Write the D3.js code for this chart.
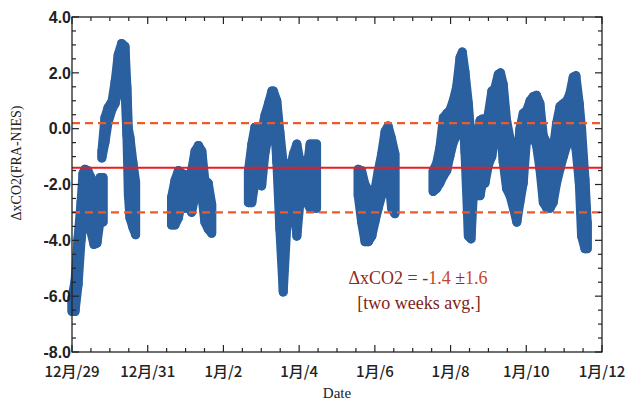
<!DOCTYPE html>
<html>
<head>
<meta charset="utf-8">
<script src="https://cdn.jsdelivr.net/npm/d3@7"></script>
<style>
  html, body { margin: 0; padding: 0; background: #fff; }
  svg { display: block; }
</style>
</head>
<body>
<svg id="chart" width="631" height="405"></svg>
<script>
// Hourly xCO2 difference (FRA minus NIES), summarised as the spread of the
// hourly points: day = days since 12/29 00:00, low/high = envelope of values.
// null entries separate the observing periods.
const day = [
  0.00, 0.08, 0.16, 0.24, 0.29, 0.34, 0.42, 0.50, 0.58, 0.66, 0.74, 0.82, null,
  0.79, 0.87, 0.95, 1.06, 1.14, 1.22, 1.31, 1.40, 1.45, 1.49, 1.53, 1.61, 1.68, null,
  2.63, 2.72, 2.81, 2.90, 2.99, 3.07, 3.16, 3.25, 3.34, 3.43, 3.51, 3.60, 3.69, null,
  4.66, 4.75, 4.83, 4.92, 5.01, 5.10, 5.19, 5.28, 5.32, 5.41, 5.49, 5.58, 5.67, 5.76, 5.85, 5.94, 6.02, 6.11, 6.20, 6.29, 6.37, 6.46, null,
  7.56, 7.65, 7.74, 7.83, 7.92, 8.00, 8.09, 8.18, 8.27, 8.35, 8.44, 8.53, null,
  9.54, 9.63, 9.72, 9.81, 9.90, 9.98, 10.07, 10.16, 10.25, 10.31, 10.38, 10.47, 10.54, 10.60, 10.69, 10.78, 10.84, 10.91,
  11.00, 11.09, 11.17, 11.26, 11.32, 11.39, 11.48, 11.57, 11.66, 11.75, 11.83, 11.92, 12.01, 12.10, 12.18, 12.27, 12.36,
  12.45, 12.54, 12.63, 12.71, 12.80, 12.89, 12.98, 13.07, 13.15, 13.24, 13.31, 13.40, 13.46, 13.55, 13.61
];
const low = [
  -6.55, -6.55, -5.6, -4.0, -3.3, -3.2, -3.3, -3.7, -4.15, -4.1, -3.3, -3.35, null,
  -1.05, -0.5, 0.2, 0.7, 0.9, 1.4, 1.5, 1.4, -0.25, -2.4, -3.2, -3.55, -3.8, null,
  -3.45, -3.45, -3.2, -2.65, -2.85, -2.75, -3.0, -2.4, -1.9, -2.4, -3.35, -3.6, -3.75, null,
  -2.65, -2.65, -1.95, -1.7, -2.05, -0.85, -0.25, 0.2, 0.8, -1.2, -3.6, -5.85, -3.6, -2.45, -2.4, -3.85, -2.65, -2.5, -2.65, -2.85, -2.85, -2.85, null,
  -2.4, -3.35, -4.05, -4.05, -3.85, -3.35, -2.85, -2.4, -1.95, -1.45, -2.85, -3.05, null,
  -2.25, -2.15, -1.95, -1.7, -1.5, -1.0, -0.5, -0.25, 0.2, 1.15, -0.85, -3.85, -3.95, -2.4, -2.4, -2.4, -1.95, -1.95,
  -1.3, -1.0, -0.25, 0.2, 0.0, -1.2, -2.15, -2.4, -2.85, -3.35, -2.65, -1.95, -0.35, -0.4, -0.25, -0.6, -1.45,
  -2.65, -2.85, -2.85, -2.65, -1.95, -1.45, -1.0, -0.6, -0.35, -0.25, -0.7, -1.95, -3.85, -4.3, -4.3
];
const high = [
  -6.05, -5.45, -3.9, -2.6, -1.6, -1.45, -1.5, -1.75, -2.3, -2.0, -1.75, -1.75, null,
  -0.8, 0.4, 0.75, 1.0, 1.7, 2.65, 3.05, 2.95, 1.5, 0.0, -0.3, -1.2, -1.9, null,
  -2.45, -1.85, -1.5, -1.6, -1.65, -1.95, -1.5, -0.8, -0.6, -0.8, -1.85, -1.95, -2.7, null,
  -1.5, -0.55, 0.05, -0.2, -0.1, 0.5, 0.9, 1.35, 1.35, 1.0, -0.1, -1.25, -1.25, -1.45, -0.9, -0.55, -1.15, -1.15, -1.5, -0.55, -0.55, -0.55, null,
  -1.45, -1.5, -2.0, -2.2, -2.45, -2.2, -1.5, -0.9, -0.1, 0.1, -0.35, -0.9, null,
  -1.5, -1.25, -0.65, 0.4, 0.55, 0.65, 1.0, 1.5, 2.55, 2.75, 2.05, 0.9, -0.3, -0.65, -0.4, 0.3, 0.35, -0.1,
  0.55, 1.35, 1.45, 1.95, 2.0, 1.6, 0.3, -0.35, -0.85, -1.45, 0.0, 0.55, 0.65, 1.0, 1.15, 1.2, 0.9,
  -0.25, -0.5, -0.95, -0.75, 0.2, 0.8, 0.9, 1.0, 1.25, 1.85, 1.9, 0.9, 0.0, -1.8, -3.35
];

// Two-week statistics
const meanDiff = -1.4;
const sdDiff = 1.6;

// Axes
const dayTicks = [0, 2, 4, 6, 8, 10, 12, 14];
const dayLabels = ["12月/29", "12月/31", "1月/2", "1月/4", "1月/6", "1月/8", "1月/10", "1月/12"];
const valueTicks = [4, 2, 0, -2, -4, -6, -8];
const valueLabels = ["4.0", "2.0", "0.0", "-2.0", "-4.0", "-6.0", "-8.0"];

const svg = d3.select("#chart");
const L = 72, R = 602, T = 17, B = 352;
const blue = "#2a609f";

const x = d3.scaleLinear().domain([0, 14]).range([L, R]);
const y = d3.scaleLinear().domain([-8, 4]).range([B, T]);

const rows = day.map((d, i) => ({ d, lo: low[i], hi: high[i] }));
const samples = rows.filter(r => r.d !== null);

// data band: envelope area plus a rounded stroke for each sample's spread
const area = d3.area()
  .defined(r => r.d !== null)
  .x(r => x(r.d))
  .y0(r => y(r.lo))
  .y1(r => y(r.hi))
  .curve(d3.curveLinear);

const band = svg.append("g");
band.append("path")
  .datum(rows)
  .attr("d", area)
  .attr("fill", blue)
  .attr("fill-rule", "nonzero")
  .attr("stroke", blue)
  .attr("stroke-width", 9)
  .attr("stroke-linejoin", "round");

band.selectAll("line")
  .data(samples)
  .join("line")
  .attr("x1", r => x(r.d)).attr("x2", r => x(r.d))
  .attr("y1", r => y(r.lo)).attr("y2", r => y(r.hi))
  .attr("stroke", blue)
  .attr("stroke-width", 9)
  .attr("stroke-linecap", "round");

// mean and ±1σ lines
svg.append("line")
  .attr("x1", L).attr("x2", R)
  .attr("y1", y(meanDiff)).attr("y2", y(meanDiff))
  .attr("stroke", "#ea1c22").attr("stroke-width", 2);

[meanDiff + sdDiff, meanDiff - sdDiff].forEach(v => {
  svg.append("line")
    .attr("x1", L).attr("x2", R)
    .attr("y1", y(v)).attr("y2", y(v))
    .attr("stroke", "#ec5a2e").attr("stroke-width", 2.4)
    .attr("stroke-dasharray", "8,5");
});

// frame with inward ticks on all four sides
const frame = svg.append("g").attr("stroke", "#222").attr("fill", "none");
frame.append("rect")
  .attr("x", L).attr("y", T).attr("width", R - L).attr("height", B - T)
  .attr("stroke-width", 1.3);

const xMinor = d3.range(0, 14.01, 0.5);
xMinor.forEach(t => {
  const major = dayTicks.includes(t);
  const len = major ? 7 : 4;
  frame.append("line").attr("x1", x(t)).attr("x2", x(t))
    .attr("y1", B).attr("y2", B - len).attr("stroke-width", 1.2);
  frame.append("line").attr("x1", x(t)).attr("x2", x(t))
    .attr("y1", T).attr("y2", T + len).attr("stroke-width", 1.2);
});

const yMinor = d3.range(-8, 4.01, 0.5);
yMinor.forEach(v => {
  const major = valueTicks.includes(v);
  const len = major ? 7 : 4;
  frame.append("line").attr("x1", L).attr("x2", L + len)
    .attr("y1", y(v)).attr("y2", y(v)).attr("stroke-width", 1.2);
  frame.append("line").attr("x1", R).attr("x2", R - len)
    .attr("y1", y(v)).attr("y2", y(v)).attr("stroke-width", 1.2);
});

// tick labels
svg.append("g").selectAll("text")
  .data(valueTicks)
  .join("text")
  .attr("x", L - 1)
  .attr("y", v => y(v))
  .attr("dy", "0.36em")
  .attr("text-anchor", "end")
  .attr("font-family", "'Liberation Sans', Arial, sans-serif")
  .attr("font-weight", "bold")
  .attr("font-size", 16)
  .attr("fill", "#222")
  .text((v, i) => valueLabels[i]);

svg.append("g").selectAll("text")
  .data(dayTicks)
  .join("text")
  .attr("x", t => x(t))
  .attr("y", 377)
  .attr("text-anchor", "middle")
  .attr("font-family", "'Noto Sans CJK JP', sans-serif")
  .attr("font-size", 15)
  .attr("font-weight", 500)
  .attr("fill", "#222")
  .text((t, i) => dayLabels[i]);

// axis titles
svg.append("text")
  .attr("x", (L + R) / 2)
  .attr("y", 398)
  .attr("text-anchor", "middle")
  .attr("font-family", "'Liberation Serif', 'Times New Roman', serif")
  .attr("font-size", 15)
  .attr("fill", "#222")
  .text("Date");

svg.append("text")
  .attr("transform", "translate(21,163) rotate(-90)")
  .attr("text-anchor", "middle")
  .attr("font-family", "'Liberation Serif', 'Times New Roman', serif")
  .attr("font-size", 14)
  .attr("fill", "#222")
  .text("ΔxCO2(FRA-NIES)");

// annotation
const note = svg.append("g")
  .attr("font-family", "'Liberation Serif', 'Times New Roman', serif")
  .attr("font-size", 18)
  .attr("text-anchor", "middle");
const line1 = note.append("text").attr("x", 418).attr("y", 284);
line1.append("tspan").attr("fill", "#8e2a1e").text("ΔxCO2 = -");
line1.append("tspan").attr("fill", "#c9442a").text(Math.abs(meanDiff).toFixed(1));
line1.append("tspan").attr("fill", "#8e2a1e").text(" ±");
line1.append("tspan").attr("fill", "#c9442a").text(sdDiff.toFixed(1));
note.append("text").attr("x", 419).attr("y", 309)
  .attr("fill", "#7e2418")
  .text("[two weeks avg.]");
</script>
</body>
</html>
